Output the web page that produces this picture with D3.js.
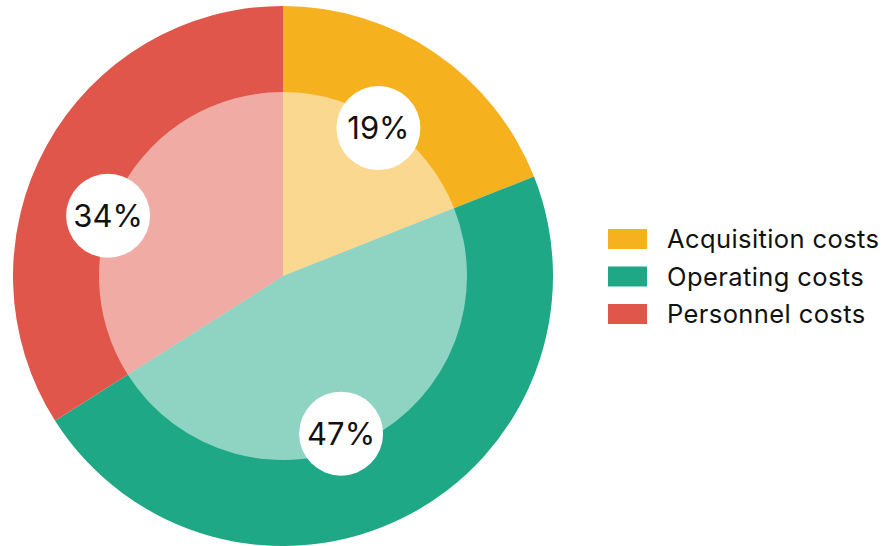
<!DOCTYPE html>
<html><head><meta charset="utf-8">
<script src="https://cdn.jsdelivr.net/npm/d3@7"></script>
<style>html,body{margin:0;padding:0;background:#fff;}svg{display:block;}</style>
</head><body>
<svg id="chart" width="885" height="546"></svg>
<script>
const categories = ["Acquisition costs", "Operating costs", "Personnel costs"];
const values = [19, 47, 34];
const colors = ["#F6B11E", "#1EA886", "#E0564A"];
// label placement: fraction along slice angle, radius
const labelFrac = [0.48, 0.54, 0.42];
const labelRad = [176, 168, 185];

const svg = d3.select("#chart");
const cx = 283, cy = 276, R = 270, Rin = 184;
const g = svg.append("g").attr("transform", `translate(${cx},${cy})`);
const pie = d3.pie().sort(null).value(d => d)(values);
const arcOuter = d3.arc().innerRadius(0).outerRadius(R);
const arcInner = d3.arc().innerRadius(0).outerRadius(Rin);
g.selectAll("path.o").data(pie).join("path").attr("class","o")
  .attr("d", arcOuter).attr("fill", (d,i) => colors[i]);
g.selectAll("path.i").data(pie).join("path").attr("class","i")
  .attr("d", arcInner).attr("fill", "#fff").attr("fill-opacity", 0.5);

const labels = g.selectAll("g.lab").data(pie).join("g").attr("class","lab")
  .attr("transform", (d,i) => {
    const a = d.startAngle + (d.endAngle - d.startAngle) * labelFrac[i];
    return `translate(${labelRad[i]*Math.sin(a)},${-labelRad[i]*Math.cos(a)})`;
  });
labels.append("circle").attr("r", 42).attr("fill", "#fff");
labels.append("text").attr("text-anchor","middle").attr("dy","0.36em")
  .attr("font-family","Inter, 'Noto Sans', sans-serif").attr("font-size", 31)
  .attr("fill","#111").text(d => d.value + "%");

const legend = svg.append("g").attr("transform","translate(608,229)");
const items = legend.selectAll("g").data(categories).join("g")
  .attr("transform", (d,i) => `translate(0,${i*37.5})`);
items.append("rect").attr("width",39).attr("height",20).attr("fill",(d,i)=>colors[i]);
items.append("text").attr("x",59).attr("y",10).attr("dy","0.36em")
  .attr("font-family","Inter, 'Noto Sans', sans-serif").attr("font-size",25.5)
  .attr("letter-spacing", 0.4)
  .attr("fill","#111").text(d=>d);
</script>
</body></html>
